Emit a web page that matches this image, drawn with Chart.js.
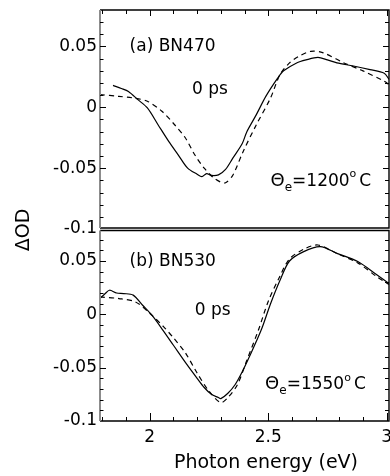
<!DOCTYPE html>
<html>
<head>
<meta charset="utf-8">
<script src="https://cdn.jsdelivr.net/npm/chart.js@4.4.1/dist/chart.umd.min.js"></script>
<style>
html,body{margin:0;padding:0;background:#fff;}
#wrap{position:relative;width:390px;height:476px;}
</style>
</head>
<body>
<div id="wrap"><canvas id="c" width="390" height="476"></canvas></div>
<script>
// ---- data ----
const energyA_solid = [1.845,1.88,1.91,1.95,1.99,2.035,2.08,2.12,2.16,2.20,2.22,2.24,2.26,2.29,2.32,2.35,2.39,2.41,2.45,2.49,2.54,2.565,2.62,2.66,2.71,2.75,2.79,2.86,2.93,2.99,3.01];
const odA_solid     = [0.018,0.0155,0.013,0.0063,-0.0005,-0.0143,-0.028,-0.039,-0.050,-0.055,-0.057,-0.0545,-0.056,-0.0555,-0.051,-0.042,-0.030,-0.020,-0.006,0.009,0.024,0.030,0.0365,0.039,0.041,0.039,0.0365,0.034,0.031,0.028,0.023];
const energyA_dashed = [1.79,1.87,1.93,1.99,2.05,2.105,2.15,2.19,2.23,2.27,2.30,2.32,2.35,2.395,2.45,2.51,2.55,2.59,2.63,2.68,2.73,2.82,2.90,2.99,3.01];
const odA_dashed     = [0.0105,0.009,0.0077,0.005,-0.003,-0.0143,-0.025,-0.039,-0.050,-0.058,-0.0615,-0.062,-0.056,-0.036,-0.0143,0.0077,0.027,0.0365,0.042,0.046,0.045,0.0365,0.030,0.0214,0.0187];
const energyB_solid = [1.79,1.81,1.83,1.86,1.89,1.93,1.97,2.01,2.056,2.10,2.155,2.20,2.23,2.26,2.29,2.30,2.33,2.36,2.39,2.42,2.47,2.51,2.55,2.59,2.65,2.72,2.79,2.88,2.96,3.01];
const odB_solid     = [0.015,0.019,0.0226,0.020,0.0195,0.018,0.0085,-0.001,-0.015,-0.029,-0.0465,-0.060,-0.0686,-0.075,-0.078,-0.079,-0.074,-0.066,-0.054,-0.040,-0.015,0.010,0.032,0.050,0.0588,0.0635,0.0572,0.0493,0.0368,0.029];
const energyB_dashed = [1.79,1.87,1.94,2.00,2.06,2.10,2.15,2.20,2.25,2.30,2.33,2.37,2.41,2.46,2.50,2.55,2.59,2.65,2.71,2.79,2.88,2.96,3.01];
const odB_dashed     = [0.0163,0.0148,0.0116,0.001,-0.012,-0.022,-0.036,-0.055,-0.072,-0.0827,-0.078,-0.066,-0.043,-0.014,0.012,0.036,0.052,0.061,0.065,0.057,0.048,0.035,0.028];
const yTickValues = [-0.1,-0.05,0,0.05];
const yTickLabels = ['-0.1','-0.05','0','0.05'];
const xTickValues = [2,2.5,3];
const xTickLabels = ['2','2.5','3'];
const panelLabels = ['(a) BN470','(b) BN530'];
const delayLabel = '0 ps';
const tempValues = ['1200','1550'];
const xTitle = 'Photon energy (eV)';
const yTitle = '\u0394OD';

const FONT = "'DejaVu Sans', sans-serif";
const pts = (xs, ys) => xs.map((x,i)=>({x:x,y:ys[i]}));

function yScale(weight, stackWeight){
  return {
    type:'linear', position:'left', stack:'panels', stackWeight:stackWeight, weight:weight,
    min:-0.1, max:0.08,
    afterBuildTicks: s => { s.ticks = yTickValues.map(v=>({value:v})); },
    afterFit: s => { s.width = 100; s.paddingTop = 0; s.paddingBottom = 0; },
    ticks:{ color:'#000', font:{family:FONT,size:17}, padding:3,
      callback: v => { const i = yTickValues.findIndex(t=>Math.abs(t-v)<1e-9); return i>=0 ? yTickLabels[i] : ''; } },
    grid:{display:false, drawTicks:false, tickLength:0}, border:{display:false}
  };
}

const decor = {
  id:'decor',
  afterDraw(chart){
    const ctx = chart.ctx, ca = chart.chartArea, xs = chart.scales.x;
    const L = ca.left, R = ca.right;
    const panels = [chart.scales.yA, chart.scales.yB];
    ctx.save();
    // frames
    panels.forEach((ys, p) => {
      const top = p===0 ? ys.top : ys.top + 1.5;
      const bot = p===0 ? ys.bottom - 1 : ys.bottom;
      ctx.strokeStyle = '#000'; ctx.lineWidth = 1.4;
      ctx.beginPath();
      ctx.moveTo(L, top); ctx.lineTo(R, top); ctx.lineTo(R, bot); ctx.lineTo(L, bot);
      ctx.stroke();
      ctx.strokeStyle = '#8c8c8c'; ctx.lineWidth = 2;
      ctx.beginPath(); ctx.moveTo(L, top); ctx.lineTo(L, bot); ctx.stroke();
      // y ticks left & right
      ctx.strokeStyle = '#000'; ctx.lineWidth = 1;
      for (let i=-10;i<=8;i++){
        const y = Math.round(ys.getPixelForValue(i/100))+0.5;
        if (y < top+2 || y > bot-2) continue;
        const major = i%5===0;
        ctx.beginPath();
        ctx.moveTo(L, y); ctx.lineTo(L + (major?6:3.5), y);
        ctx.moveTo(R, y); ctx.lineTo(R - (major?6:4), y);
        ctx.stroke();
      }
      // x ticks
      for (let i=18;i<=30;i++){
        const x = Math.round(xs.getPixelForValue(i/10))+0.5;
        const major = i%5===0;
        ctx.beginPath();
        if (p===0){ ctx.moveTo(x, top); ctx.lineTo(x, top + (major?6:4)); }
        else { ctx.moveTo(x, bot); ctx.lineTo(x, bot - (major?8:4)); }
        ctx.stroke();
      }
    });
    // annotations
    ctx.fillStyle = '#000';
    ctx.textBaseline = 'middle';
    ctx.textAlign = 'left';
    const ann = [
      {ys:chart.scales.yA, lab:[1.915,0.0503], ps:[2.178,0.0148], th:[2.51,-0.061], t:tempValues[0], name:panelLabels[0]},
      {ys:chart.scales.yB, lab:[1.915,0.049], ps:[2.19,0.0038], th:[2.487,-0.066], t:tempValues[1], name:panelLabels[1]}
    ];
    ann.forEach(a => {
      ctx.font = '17px ' + FONT;
      ctx.fillText(a.name, xs.getPixelForValue(a.lab[0]), a.ys.getPixelForValue(a.lab[1]));
      ctx.fillText(delayLabel, xs.getPixelForValue(a.ps[0]), a.ys.getPixelForValue(a.ps[1]));
      let x = xs.getPixelForValue(a.th[0]); const y = a.ys.getPixelForValue(a.th[1]);
      ctx.font = '18px ' + FONT; ctx.fillText('\u0398', x, y); x += ctx.measureText('\u0398').width;
      ctx.font = '12px ' + FONT; ctx.fillText('e', x, y+6); x += ctx.measureText('e').width;
      ctx.font = '17px ' + FONT; ctx.fillText('=' + a.t, x, y); x += ctx.measureText('=' + a.t).width;
      ctx.font = '11px ' + FONT; ctx.fillText('o', x, y-7); x += ctx.measureText('o').width + 3;
      ctx.font = '17px ' + FONT; ctx.fillText('C', x, y);
    });
    // axis titles
    ctx.font = '19px ' + FONT;
    ctx.textAlign = 'center';
    ctx.fillText(xTitle, 266, 463);
    ctx.save();
    ctx.translate(24, 230); ctx.rotate(-Math.PI/2);
    ctx.fillText(yTitle, 0, 0);
    ctx.restore();
    ctx.restore();
  }
};

const lineDs = (data, axis, dashed) => ({
  data: data, yAxisID: axis, borderColor:'#000', borderWidth:1.2,
  borderDash: dashed ? [5,4] : [], pointRadius:0, tension:0.3, fill:false
});

new Chart(document.getElementById('c'), {
  type:'line',
  data:{ datasets:[
    lineDs(pts(energyA_solid, odA_solid), 'yA', false),
    lineDs(pts(energyA_dashed, odA_dashed), 'yA', true),
    lineDs(pts(energyB_solid, odB_solid), 'yB', false),
    lineDs(pts(energyB_dashed, odB_dashed), 'yB', true)
  ]},
  options:{
    responsive:false, animation:false, devicePixelRatio:1,
    layout:{padding:{left:0,top:10,right:1,bottom:0}},
    plugins:{legend:{display:false}, tooltip:{enabled:false}},
    scales:{
      x:{ type:'linear', position:'bottom', min:1.79, max:3.01,
        afterBuildTicks: s => { s.ticks = xTickValues.map(v=>({value:v})); },
        afterFit: s => { s.height = 55; s.paddingLeft = 0; s.paddingRight = 0; },
        ticks:{ color:'#000', font:{family:FONT,size:17}, padding:6, maxRotation:0, autoSkip:false,
          callback: v => { const i = xTickValues.findIndex(t=>Math.abs(t-v)<1e-9); return i>=0 ? xTickLabels[i] : ''; } },
        grid:{display:false, drawTicks:false, tickLength:0}, border:{display:false}
      },
      yA: yScale(2, 219),
      yB: yScale(1, 192)
    }
  },
  plugins:[decor]
});
</script>
</body>
</html>
